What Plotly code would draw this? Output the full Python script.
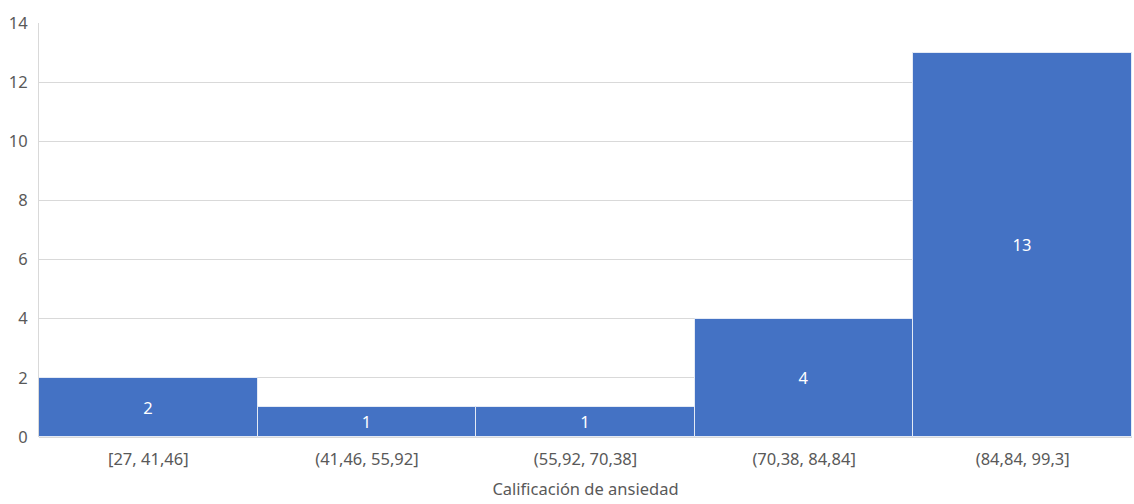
import plotly.graph_objects as go

# Histogram bins and counts
bins = ["[27, 41,46]", "(41,46, 55,92]", "(55,92, 70,38]", "(70,38, 84,84]", "(84,84, 99,3]"]
counts = [2, 1, 1, 4, 13]
y_ticks = [0, 2, 4, 6, 8, 10, 12, 14]

font_family = "Noto Sans, Open Sans, sans-serif"
gray_text = "#595959"
grid = "#D9D9D9"
fs = 16.5

fig = go.Figure(
    go.Bar(
        x=bins,
        y=counts,
        text=[str(c) for c in counts],
        textposition="inside",
        insidetextanchor="middle",
        textfont=dict(color="white", size=fs, family=font_family),
        marker=dict(color="#4472C4", line=dict(color="#E4EAF5", width=1)),
        hoverinfo="x+y",
    )
)

fig.update_layout(
    width=1134,
    height=504,
    margin=dict(l=39, r=2, t=23, b=67),
    paper_bgcolor="white",
    plot_bgcolor="white",
    bargap=0,
    showlegend=False,
    font=dict(family=font_family, size=fs, color=gray_text),
)

fig.update_xaxes(
    title=dict(text="Calificación de ansiedad", font=dict(size=fs, color=gray_text), standoff=14),
    showgrid=False,
    ticks="",
    ticklabelstandoff=10,
    tickfont=dict(size=fs, color=gray_text),
    showline=False,
)

fig.update_yaxes(
    range=[0, 14],
    tickvals=y_ticks,
    showgrid=True,
    gridcolor=grid,
    gridwidth=1,
    zeroline=True,
    zerolinecolor=grid,
    showline=True,
    linecolor=grid,
    linewidth=1,
    ticks="",
    ticklabelstandoff=7,
    tickfont=dict(size=fs, color=gray_text),
)

fig.write_html("out.html")
